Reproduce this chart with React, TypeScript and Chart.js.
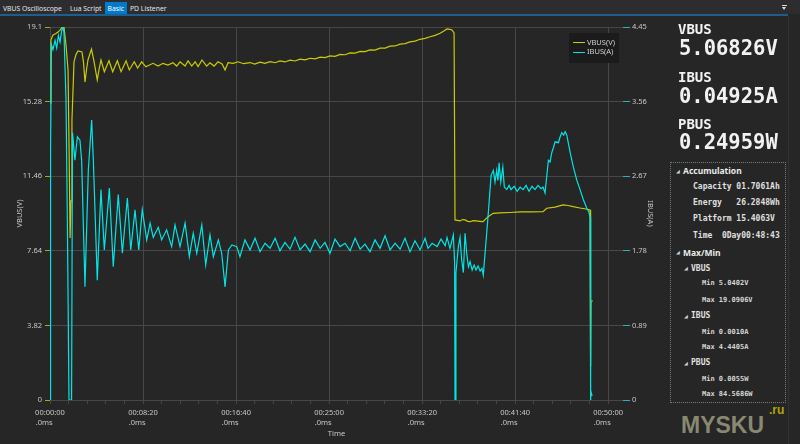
import React, { useEffect, useRef } from 'react';
import { Chart, registerables } from 'chart.js';
Chart.register(...registerables);

// ---------- data ----------
const TIME_MAX = 3080;
const xMajorTicks = [0, 500, 1000, 1500, 2000, 2500, 3000];
const xMajorLabels = ['00:00:00', '00:08:20', '00:16:40', '00:25:00', '00:33:20', '00:41:40', '00:50:00'];
const xMinorStep = 100;

const vTicks = [0, 3.82, 7.64, 11.46, 15.28, 19.1];
const vTickLabels = ['0', '3.82', '7.64', '11.46', '15.28', '19.1'];
const iTicks = [0, 0.89, 1.78, 2.67, 3.56, 4.45];
const iTickLabels = ['0', '0.89', '1.78', '2.67', '3.56', '4.45'];

const vbusTime = [
  0, 5, 16, 30, 43, 55, 65, 75, 86, 97, 103, 108, 113, 118, 129, 140, 151, 172, 180, 188,
  196, 204, 223, 237, 254, 264, 274, 292, 317, 337, 362, 382, 409, 426, 453, 471, 493, 515,
  554, 581, 607, 634, 661, 681, 699, 726, 742, 762, 780, 796, 817, 842, 860, 882, 903, 925,
  941, 957, 984, 1011, 1040, 1075, 1100, 1129, 1155, 1183, 1210, 1236, 1263, 1290, 1317,
  1344, 1371, 1398, 1425, 1452, 1478, 1505, 1532, 1559, 1586, 1613, 1640, 1667, 1693, 1720,
  1747, 1774, 1801, 1828, 1855, 1882, 1908, 1935, 1962, 1989, 2016, 2043, 2070, 2097, 2115,
  2134, 2150, 2161, 2172, 2177, 2190, 2204, 2218, 2231, 2245, 2258, 2275, 2290, 2310, 2328,
  2355, 2382, 2419, 2473, 2527, 2581, 2650, 2670, 2715, 2758, 2785, 2812, 2849, 2881, 2903,
  2906, 2908, 2918,
];
const vbusVolts = [
  15.21, 18.43, 18.69, 18.75, 18.84, 18.95, 19.09, 19.09, 18.18, 16.9, 12.5, 8.3, 10.2, 14.34,
  17.31, 17.7, 17.87, 17.82, 17.3, 16.28, 16.9, 17.41, 17.97, 17.31, 16.39, 16.95, 17.41,
  16.81, 17.37, 16.81, 17.37, 16.81, 17.37, 16.9, 17.32, 17.0, 17.32, 17.06, 17.24, 17.1,
  17.24, 17.15, 17.27, 17.1, 17.32, 17.1, 17.37, 17.1, 17.32, 17.07, 17.41, 17.1, 17.27,
  17.1, 17.32, 17.21, 16.9, 17.27, 17.24, 17.32, 17.22, 17.28, 17.2, 17.3, 17.24, 17.33,
  17.27, 17.36, 17.31, 17.4, 17.36, 17.45, 17.42, 17.5, 17.47, 17.56, 17.53, 17.62, 17.6,
  17.7, 17.68, 17.77, 17.76, 17.85, 17.84, 17.93, 17.92, 18.02, 18.02, 18.12, 18.13, 18.22,
  18.25, 18.34, 18.38, 18.47, 18.52, 18.6, 18.67, 18.78, 18.88, 19.0, 18.98, 18.95, 18.8,
  9.22, 9.2, 9.17, 9.24, 9.22, 9.15, 9.13, 9.18, 9.17, 9.15, 9.13, 9.39, 9.56, 9.58, 9.6,
  9.63, 9.63, 9.64, 9.82, 9.88, 9.99, 9.96, 9.9, 9.83, 9.78, 9.73, 1.7, 5.07, 5.07,
];

const ibusTime = [
  0, 3, 8, 16, 27, 36, 45, 54, 63, 70, 75, 86, 94, 102, 116, 121, 134, 147, 161, 170, 188,
  206, 224, 233, 254, 274, 292, 319, 340, 367, 389, 416, 434, 457, 477, 496, 520, 538, 555,
  582, 600, 627, 654, 672, 699, 726, 749, 770, 789, 816, 837, 860, 878, 905, 923, 941, 959,
  978, 1004, 1021, 1048, 1075, 1102, 1129, 1156, 1183, 1210, 1236, 1263, 1290, 1317, 1344,
  1371, 1398, 1425, 1452, 1478, 1505, 1532, 1559, 1586, 1613, 1640, 1667, 1693, 1720, 1747,
  1774, 1801, 1828, 1855, 1882, 1908, 1935, 1962, 1989, 2016, 2032, 2054, 2081, 2102, 2124,
  2134, 2150, 2168, 2175, 2177, 2182, 2195, 2204, 2213, 2222, 2231, 2240, 2249, 2258, 2269,
  2280, 2290, 2301, 2312, 2322, 2329, 2356, 2371, 2383, 2392, 2401, 2408, 2414, 2423, 2434,
  2442, 2455, 2468, 2478, 2495, 2511, 2527, 2543, 2559, 2575, 2591, 2607, 2623, 2640, 2650,
  2661, 2679, 2688, 2697, 2706, 2715, 2733, 2742, 2751, 2761, 2769, 2778, 2796, 2813, 2832,
  2849, 2867, 2885, 2897, 2903, 2906, 2908, 2914,
];
const ibusAmps = [
  0, 2.98, 4.24, 4.18, 4.29, 4.2, 4.35, 4.27, 4.41, 4.44, 4.39, 3.58, 1.99, 0, 0, 3.19, 2.86,
  3.14, 3.1, 2.86, 1.35, 2.74, 3.34, 2.86, 1.43, 2.51, 1.79, 2.53, 1.59, 2.45, 1.75, 2.41,
  1.79, 2.27, 1.79, 2.27, 1.91, 2.11, 1.94, 2.06, 1.91, 2.03, 1.83, 2.09, 1.83, 2.11, 1.71,
  1.99, 1.75, 2.09, 1.61, 1.97, 1.71, 1.91, 1.75, 1.35, 1.79, 1.85, 1.83, 1.71, 1.91, 1.79,
  1.93, 1.77, 1.87, 1.81, 1.93, 1.78, 1.88, 1.8, 1.94, 1.79, 1.86, 1.77, 1.91, 1.81, 1.88,
  1.75, 1.92, 1.83, 1.87, 1.78, 1.93, 1.8, 1.86, 1.77, 1.91, 1.81, 1.96, 1.79, 1.87, 1.8,
  1.93, 1.77, 1.9, 1.79, 1.93, 1.81, 1.87, 1.83, 1.92, 1.84, 1.94, 1.81, 1.97, 1.63, 0, 1.52,
  1.83, 1.94, 1.67, 1.52, 1.99, 1.75, 1.59, 1.65, 1.55, 1.61, 1.55, 1.6, 1.54, 1.57, 1.49,
  2.23, 2.68, 2.74, 2.6, 2.74, 2.62, 2.83, 2.6, 2.78, 2.54, 2.51, 2.56, 2.51, 2.55, 2.49,
  2.54, 2.51, 2.56, 2.49, 2.55, 2.51, 2.56, 2.52, 2.54, 2.47, 2.86, 2.84, 2.95, 3.01, 3.08,
  3.07, 3.14, 3.19, 3.16, 3.2, 3.16, 2.95, 2.78, 2.62, 2.51, 2.39, 2.29, 2.24, 2.18, 0, 0.1,
  0.05,
];

// ---------- styles ----------
const BG = '#262626';
const GRID = '#474747';
const TXT = '#c8c8c8';
const VCOL = '#cccc00';
const ICOL = '#00e6e6';
const SANS = '"Noto Sans", "Open Sans", sans-serif';
const MONO = '"DejaVu Sans Mono", "Liberation Mono", monospace';

type TP = { x: number; y: number; size: number; bold?: boolean; family?: string; color?: string; children: React.ReactNode };
function T({ x, y, size, bold, family, color, children }: TP) {
  return (
    <div
      style={{
        position: 'absolute', left: x, top: y, fontSize: size, lineHeight: 1,
        fontWeight: bold ? 700 : 400, fontFamily: family || SANS, color: color || '#e6e6e6',
        whiteSpace: 'pre',
      }}
    >
      {children}
    </div>
  );
}

function Tri({ x, y }: { x: number; y: number }) {
  return <T x={x} y={y} size={5} family='"DejaVu Sans", sans-serif' color="#cfcfcf">◢</T>;
}

export default function App() {
  const ref = useRef<HTMLCanvasElement>(null);

  useEffect(() => {
    const font = { family: SANS, size: 7.5 };
    const chart = new Chart(ref.current as HTMLCanvasElement, {
      type: 'line',
      data: {
        datasets: [
          {
            label: 'VBUS(V)',
            data: vbusTime.map((t, i) => ({ x: t, y: vbusVolts[i] })),
            yAxisID: 'yV',
            borderColor: VCOL,
            borderWidth: 1.2,
            pointRadius: 0,
            tension: 0,
            order: 1,
          },
          {
            label: 'IBUS(A)',
            data: ibusTime.map((t, i) => ({ x: t, y: ibusAmps[i] })),
            yAxisID: 'yI',
            borderColor: ICOL,
            borderWidth: 1.2,
            pointRadius: 0,
            tension: 0,
            order: 0,
          },
        ],
      },
      options: {
        responsive: false,
        animation: false,
        devicePixelRatio: 1,
        layout: { padding: { top: 27, left: 0, right: 0, bottom: 0 } },
        plugins: { legend: { display: false }, tooltip: { enabled: false } },
        scales: {
          x: {
            type: 'linear',
            position: 'bottom',
            min: 0,
            max: TIME_MAX,
            afterBuildTicks: (s: any) => {
              const arr: any[] = [];
              for (let v = 0; v <= xMajorTicks[xMajorTicks.length - 1]; v += xMinorStep) arr.push({ value: v });
              s.ticks = arr;
            },
            afterFit: (s: any) => { s.height = 44; },
            ticks: {
              autoSkip: false,
              maxRotation: 0,
              color: TXT,
              font: { ...font, lineHeight: 1.45 },
              padding: 3,
              callback: (v: any) => {
                const k = xMajorTicks.indexOf(Number(v));
                return k >= 0 ? [xMajorLabels[k], '.0ms      '] : '';
              },
            },
            grid: {
              color: (c: any) => (c.tick && c.tick.value % 500 === 0 ? GRID : 'rgba(0,0,0,0)'),
              tickColor: GRID,
              tickLength: 4,
            },
            border: { display: false },
            title: { display: true, text: 'Time', color: TXT, font, padding: { top: 0, bottom: 5.5 } },
          },
          yV: {
            type: 'linear',
            position: 'left',
            min: 0,
            max: 19.1,
            afterBuildTicks: (s: any) => { s.ticks = vTicks.map((v) => ({ value: v })); },
            afterFit: (s: any) => { s.width = 50; },
            ticks: { autoSkip: false, color: TXT, font, padding: 3, callback: (_v: any, i: number) => vTickLabels[i] },
            grid: { color: GRID, tickColor: '#a6a620', tickLength: 5 },
            border: { display: false },
            title: { display: true, text: 'VBUS(V)', color: TXT, font, padding: { top: 15.5, bottom: 0 } },
          },
          yI: {
            type: 'linear',
            position: 'right',
            min: 0,
            max: 4.45,
            afterBuildTicks: (s: any) => { s.ticks = iTicks.map((v) => ({ value: v })); },
            afterFit: (s: any) => { s.width = 45; },
            ticks: { autoSkip: false, color: TXT, font, padding: 2, callback: (_v: any, i: number) => iTickLabels[i] },
            grid: { drawOnChartArea: false, tickColor: '#20b8b8', tickLength: 7 },
            border: { display: false },
            title: { display: true, text: 'IBUS(A)', color: TXT, font, padding: { top: 13.5, bottom: 0 } },
          },
        },
      } as any,
    });
    return () => chart.destroy();
  }, []);

  return (
    <div
      style={{
        position: 'fixed', left: 0, top: 0, width: 800, height: 444, background: BG,
        overflow: 'hidden', fontFamily: SANS,
      }}
    >
      {/* tab bar */}
      <div style={{ position: 'absolute', left: 0, top: 0, width: 800, height: 14, background: '#2d2d30' }} />
      <div style={{ position: 'absolute', left: 105, top: 2, width: 22, height: 12, background: '#007acc' }} />
      <T x={3} y={5.5} size={6.8} color="#e6e6e6">VBUS Oscilloscope</T>
      <T x={70} y={5.5} size={6.8} color="#e6e6e6">Lua Script</T>
      <T x={107.5} y={5.5} size={6.8} color="#ffffff">Basic</T>
      <T x={130} y={5.5} size={6.8} color="#e6e6e6">PD Listener</T>
      <div style={{ position: 'absolute', left: 0, top: 14, width: 788, height: 2, background: '#1c5d92' }} />
      <div style={{ position: 'absolute', left: 782, top: 5, width: 5, height: 1, background: '#dddddd' }} />
      <div
        style={{
          position: 'absolute', left: 782, top: 7, width: 0, height: 0,
          borderLeft: '2.5px solid transparent', borderRight: '2.5px solid transparent', borderTop: '3px solid #dddddd',
        }}
      />
      <div style={{ position: 'absolute', left: 788, top: 16, width: 1, height: 428, background: '#333333' }} />

      {/* chart */}
      <canvas ref={ref} width={668} height={444} style={{ position: 'absolute', left: 0, top: 0, width: 668, height: 444 }} />

      {/* legend */}
      <div style={{ position: 'absolute', left: 569, top: 33, width: 50, height: 30, background: '#1b1b1b' }} />
      <div style={{ position: 'absolute', left: 573, top: 42, width: 12, height: 1.2, background: VCOL }} />
      <div style={{ position: 'absolute', left: 573, top: 52, width: 12, height: 1.2, background: ICOL }} />
      <T x={587} y={38.7} size={7.5} color="#d0d0d0">VBUS(V)</T>
      <T x={587} y={48.3} size={7.5} color="#d0d0d0">IBUS(A)</T>

      {/* live readings */}
      <T x={678} y={21.7} size={14} bold family={MONO} color="#f2f2f2">VBUS</T>
      <T x={679} y={37.6} size={20.5} bold family={MONO} color="#f2f2f2">5.06826V</T>
      <T x={678} y={70} size={14} bold family={MONO} color="#f2f2f2">IBUS</T>
      <T x={679} y={85.6} size={20.5} bold family={MONO} color="#f2f2f2">0.04925A</T>
      <T x={678} y={116.7} size={14} bold family={MONO} color="#f2f2f2">PBUS</T>
      <T x={679} y={132.1} size={20.5} bold family={MONO} color="#f2f2f2">0.24959W</T>

      {/* tree */}
      <div style={{ position: 'absolute', left: 670, top: 162, width: 114, height: 239, border: '1px dotted #7a7a7a' }} />
      <Tri x={676} y={168.5} />
      <T x={683} y={167} size={8.5} bold color="#eaeaea">Accumulation</T>
      <T x={693} y={183} size={8} bold family={MONO} color="#e0e0e0">Capacity 01.7061Ah</T>
      <T x={693} y={199} size={8} bold family={MONO} color="#e0e0e0">Energy   26.2848Wh</T>
      <T x={693} y={215} size={8} bold family={MONO} color="#e0e0e0">Platform 15.4063V</T>
      <T x={693} y={232} size={8} bold family={MONO} color="#e0e0e0">Time  0Day00:48:43</T>
      <Tri x={676} y={250} />
      <T x={683} y={248.5} size={8.5} bold color="#eaeaea">Max/Min</T>
      <Tri x={684} y={266} />
      <T x={691} y={264.6} size={8} bold family={MONO} color="#e0e0e0">VBUS</T>
      <T x={702} y={279.6} size={7} bold family={MONO} color="#d6d6d6">Min 5.0402V</T>
      <T x={702} y={296.6} size={7} bold family={MONO} color="#d6d6d6">Max 19.0906V</T>
      <Tri x={684} y={313.5} />
      <T x={691} y={312} size={8} bold family={MONO} color="#e0e0e0">IBUS</T>
      <T x={702} y={328.6} size={7} bold family={MONO} color="#d6d6d6">Min 0.0010A</T>
      <T x={702} y={343.6} size={7} bold family={MONO} color="#d6d6d6">Max 4.4405A</T>
      <Tri x={684} y={360.5} />
      <T x={691} y={359} size={8} bold family={MONO} color="#e0e0e0">PBUS</T>
      <T x={702} y={375.6} size={7} bold family={MONO} color="#d6d6d6">Min 0.0055W</T>
      <T x={702} y={390.6} size={7} bold family={MONO} color="#d6d6d6">Max 84.5686W</T>

      {/* watermark */}
      <T x={681} y={414} size={23} bold family='"Liberation Sans", Arial, sans-serif' color="rgba(170,170,140,0.75)">MYSKU</T>
      <T x={769} y={404} size={12} bold family='"Liberation Sans", Arial, sans-serif' color="rgba(210,190,0,0.85)">.ru</T>
    </div>
  );
}
